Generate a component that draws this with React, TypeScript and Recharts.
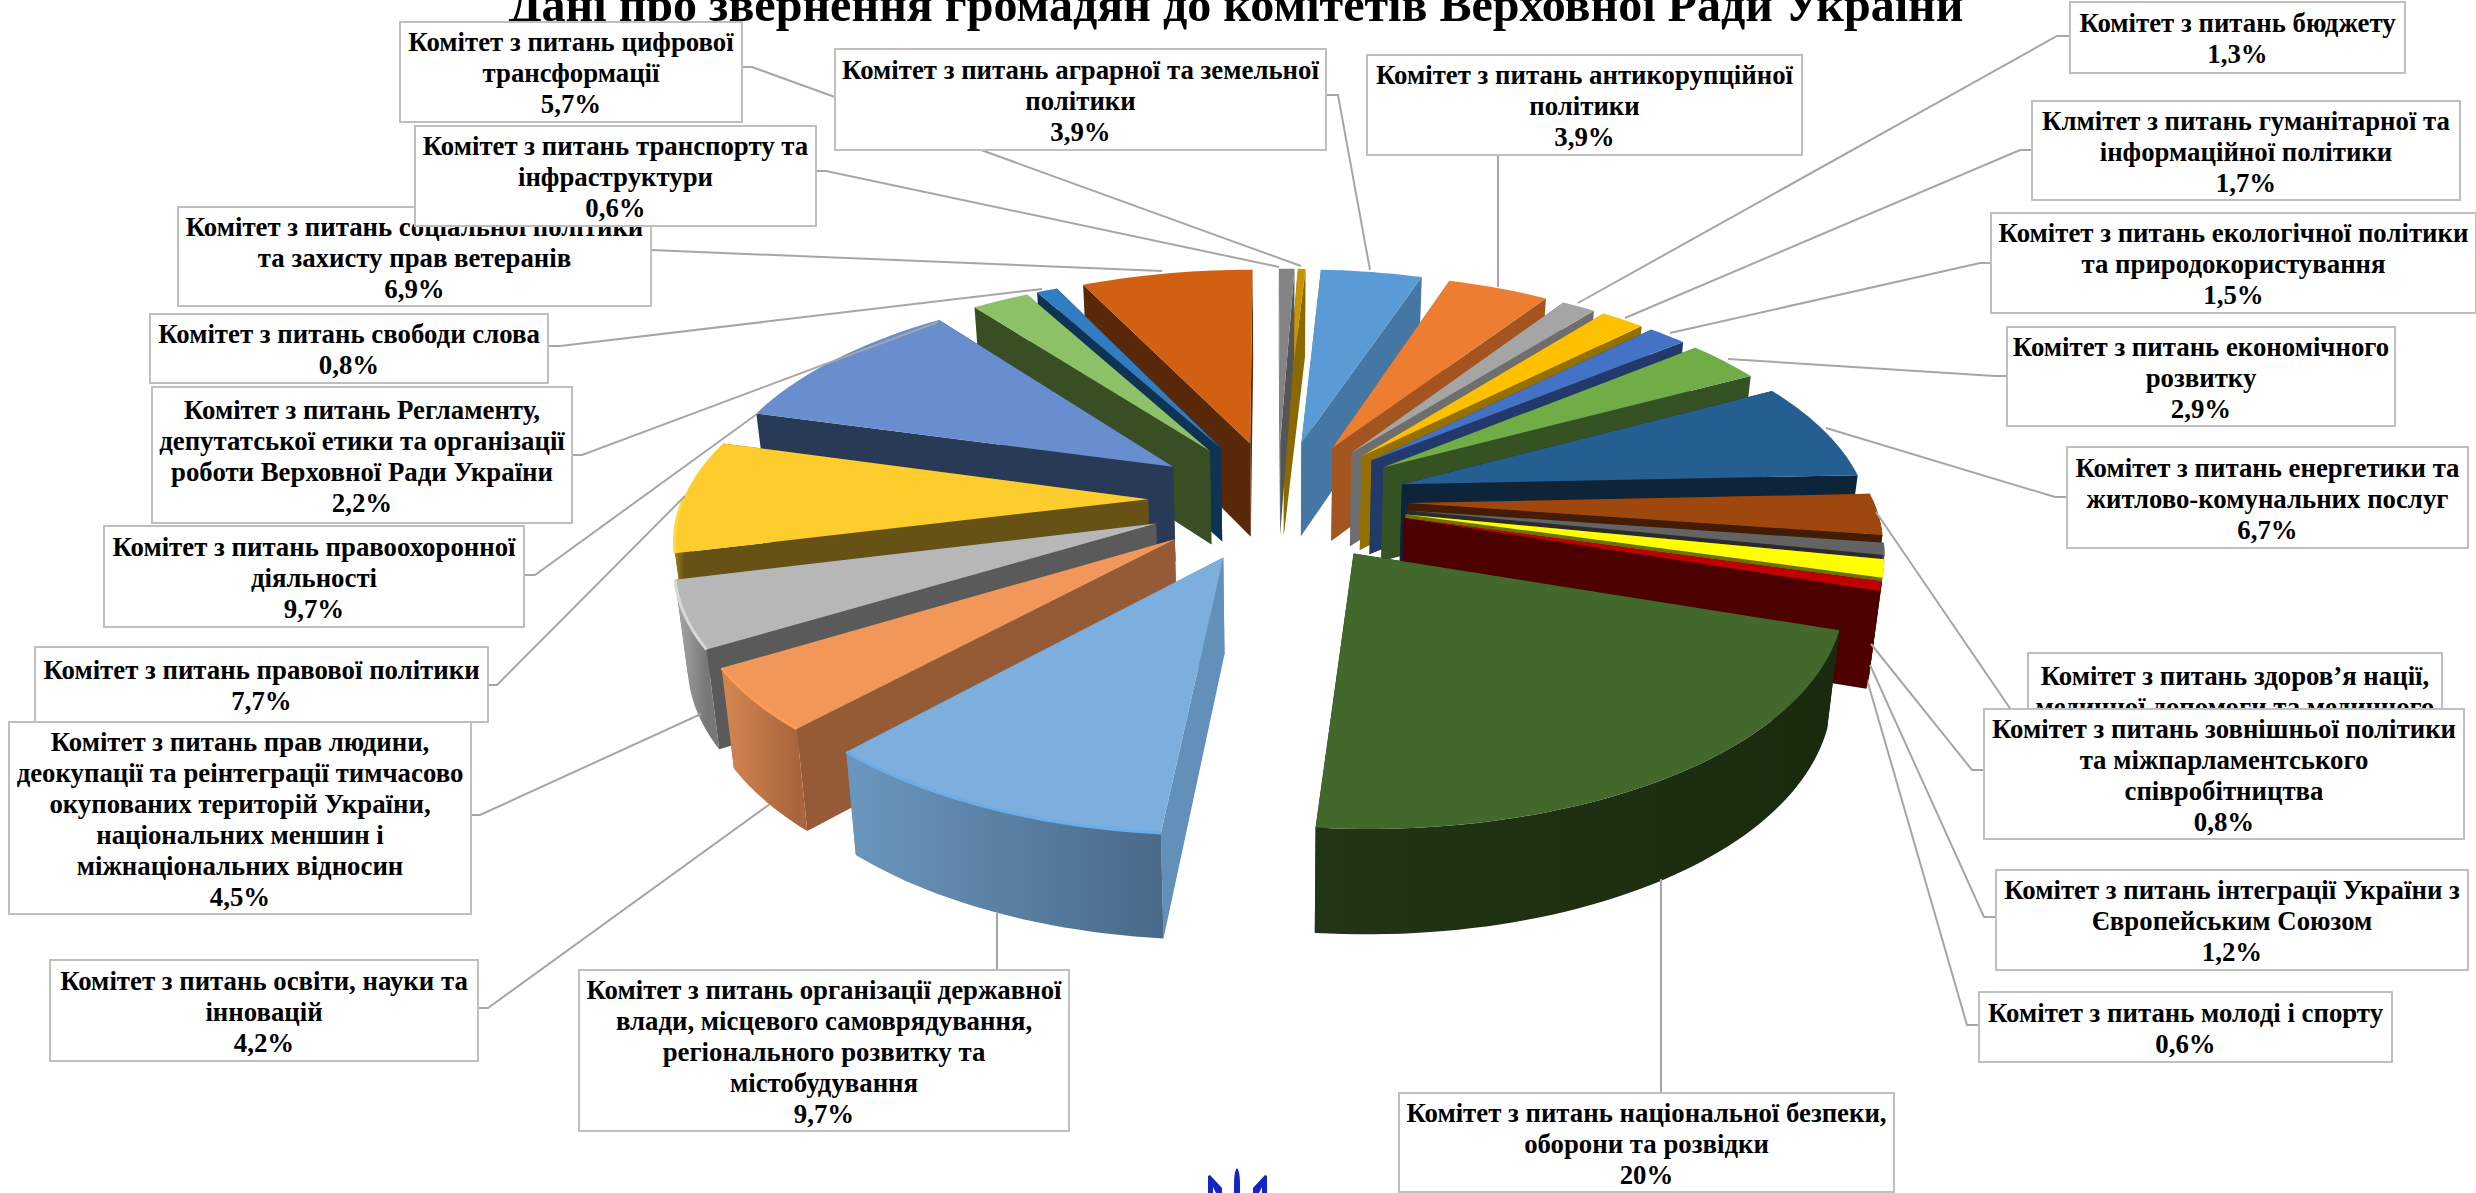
import React from "react";
import { PieChart, Pie } from "recharts";

const WIDTH = 2476;
const HEIGHT = 1193;

// ---- data (clockwise from the top) ----
const committees = [
  "Аграрна", "Антикорупція", "Бюджет", "Гуманітарна", "Екологія", "Економіка", "Енергетика",
  "Здоров'я", "Зовнішня", "Інтеграція", "Молодь", "Безпека", "Організація", "Освіта",
  "Права людини", "Правова", "Правоохоронна", "Регламент", "Свобода слова", "Соціальна",
  "Транспорт", "Цифрова",
];
// drawn share of each slice as seen in the picture
const drawnShares = [3.9, 3.9, 1.3, 1.7, 1.5, 2.9, 6.7, 2.8, 0.8, 1.2, 0.6, 20, 9.7, 4.2, 4.5, 7.7, 9.7, 2.2, 0.8, 6.6, 0.6, 0.3];
// printed texts
const printedShares = ["3,9%", "3,9%", "1,3%", "1,7%", "1,5%", "2,9%", "6,7%", "2,8%", "0,8%", "1,2%", "0,6%", "20%", "9,7%", "4,2%", "4,5%", "7,7%", "9,7%", "2,2%", "0,8%", "6,9%", "0,6%", "5,7%"];
const labelTexts: string[][] = [
  ["Комітет з питань аграрної та земельної", "політики"],
  ["Комітет з питань антикорупційної", "політики"],
  ["Комітет з питань бюджету"],
  ["Клмітет з питань гуманітарної та", "інформаційної політики"],
  ["Комітет з питань екологічної політики", "та природокористування"],
  ["Комітет з питань економічного", "розвитку"],
  ["Комітет з питань енергетики та", "житлово-комунальних послуг"],
  ["Комітет з питань здоров’я нації,", "медичної допомоги та медичного", "страхування"],
  ["Комітет з питань зовнішньої політики", "та міжпарламентського", "співробітництва"],
  ["Комітет з питань інтеграції України з", "Європейським Союзом"],
  ["Комітет з питань молоді і спорту"],
  ["Комітет з питань національної безпеки,", "оборони та розвідки"],
  ["Комітет з питань організації державної", "влади, місцевого самоврядування,", "регіонального розвитку та", "містобудування"],
  ["Комітет з питань освіти, науки та", "інновацій"],
  ["Комітет з питань прав людини,", "деокупації та реінтеграції тимчасово", "окупованих територій України,", "національних меншин і", "міжнаціональних відносин"],
  ["Комітет з питань правової політики"],
  ["Комітет з питань правоохоронної", "діяльності"],
  ["Комітет з питань Регламенту,", "депутатської етики та організації", "роботи Верховної Ради України"],
  ["Комітет з питань свободи слова"],
  ["Комітет з питань соціальної політики", "та захисту прав ветеранів"],
  ["Комітет з питань транспорту та", "інфраструктури"],
  ["Комітет з питань цифрової", "трансформації"],
];
const titleText = "Дані про звернення громадян до комітетів Верховної Ради України";

// ---- looks ----
const topColors = ["#5b9bd5", "#ed7d31", "#a5a5a5", "#ffc000", "#4472c4", "#70ad47", "#255e91", "#9e480e", "#636363", "#ffff00", "#c00000", "#43682b", "#7cafdd", "#f1975a", "#b7b7b7", "#fccd2d", "#698ed0", "#8cc168", "#327dc2", "#d26012", "#848484", "#c89400"];
const wallColors = ["#4477a3", "#a4541f", "#6e6e6e", "#947000", "#223a6b", "#355223", "#0d2439", "#431c03", "#2b2b2b", "#6f6f00", "#4d0000", "#1b2a0f", "#6290b8", "#955b36", "#5a5a5a", "#665215", "#293a57", "#384f23", "#0f3354", "#592808", "#555555", "#8a6a00"];
const outerFrom = ["#4477a3", "#a4541f", "#6e6e6e", "#947000", "#223a6b", "#355223", "#0d2439", "#431c03", "#444444", "#8f8f00", "#4d0000", "#223516", "#6a97be", "#d58752", "#ababab", "#998020", "#293a57", "#384f23", "#0f3354", "#592808", "#555555", "#8a6a00"];
const outerTo = ["#4477a3", "#a4541f", "#6e6e6e", "#947000", "#223a6b", "#355223", "#0d2439", "#431c03", "#2b2b2b", "#6f6f00", "#4d0000", "#1a2a0e", "#4a6a89", "#a9653c", "#777777", "#665215", "#293a57", "#384f23", "#0f3354", "#592808", "#555555", "#8a6a00"];
const rimColors: Record<number, string> = { 12: "#6aade8", 13: "#ff9a50", 14: "#d9d9d9", 15: "#ffd83a" };

// ---- 3D projection of the pie plane ----
const TILT = 0.464;
const PERSPECTIVE = 0.000325;
const EXPLODE = 130;
const explodeExtra: Record<number, number> = { 11: 3 };
const RAD = Math.PI / 180;

type Pt = { x: number; y: number; s: number };

const pathOf = (pts: { x: number; y: number }[]) =>
  pts.map((p, i) => `${i ? "L" : "M"}${p.x.toFixed(1)},${p.y.toFixed(1)}`).join(" ") + " Z";

const Wedge3D = (props: any) => {
  const { cx, cy, outerRadius, startAngle, endAngle, payload } = props;
  const idx: number = payload?.idx ?? props.idx;
  const a0 = Math.min(startAngle, endAngle);
  const a1 = Math.max(startAngle, endAngle);
  const mid = (a0 + a1) / 2;
  const explode = EXPLODE + (explodeExtra[idx] || 0);
  const ou = explode * Math.cos(mid * RAD);
  const ov = -explode * Math.sin(mid * RAD);
  const project = (u: number, v: number): Pt => {
    const s = 1 / (1 - PERSPECTIVE * v);
    return { x: cx + u * s, y: cy + TILT * v * s, s };
  };
  const down = (p: Pt) => ({ x: cx + (p.x - cx) * 0.978, y: p.y + 50 + 45 * p.s });
  const apex = project(ou, ov);
  const n = Math.max(4, Math.ceil((a1 - a0) / 1.5));
  const arc: (Pt & { front: boolean })[] = [];
  for (let i = 0; i <= n; i++) {
    const a = a0 + ((a1 - a0) * i) / n;
    const p = project(ou + outerRadius * Math.cos(a * RAD), ov - outerRadius * Math.sin(a * RAD));
    arc.push({ ...p, front: Math.sin(a * RAD) < 0.02 });
  }
  const first = arc[0];
  const last = arc[arc.length - 1];
  const wall = (edge: Pt) => [apex, edge, down(edge), down(apex)];
  const walls = first.y < last.y ? [first, last] : [last, first];
  const front = arc.filter((p) => p.front);
  const gradId = `outer-${idx}`;
  const xs = front.map((p) => p.x);
  const rim = rimColors[idx];
  return (
    <g>
      {walls.map((e, i) => (
        <path key={i} d={pathOf(wall(e))} fill={wallColors[idx]} />
      ))}
      {front.length > 1 && (
        <>
          <defs>
            <linearGradient id={gradId} gradientUnits="userSpaceOnUse" x1={Math.min(...xs)} x2={Math.max(...xs)} y1={0} y2={0}>
              <stop offset="0" stopColor={outerFrom[idx]} />
              <stop offset="1" stopColor={outerTo[idx]} />
            </linearGradient>
          </defs>
          <path d={pathOf([...front, ...front.map(down).reverse()])} fill={`url(#${gradId})`} />
        </>
      )}
      <path d={pathOf([apex, ...arc])} fill={topColors[idx]} />
      {rim && (
        <polyline points={front.map((p) => `${p.x.toFixed(1)},${p.y.toFixed(1)}`).join(" ")} fill="none" stroke={rim} strokeWidth={3} />
      )}
    </g>
  );
};

const table = committees.map((name, idx) => ({ name, idx, value: drawnShares[idx] }));
const SPLIT = 12;
const rightSlices = table.slice(0, SPLIT);
const leftSlices = table.slice(SPLIT).reverse();
const sumOf = (rows: { value: number }[]) => rows.reduce((a, r) => a + r.value, 0);
const total = sumOf(table);
const START = 86.7;

// ---- label layout: box [x0, y0, x1, y1] and leader polyline ----
const boxes: number[][] = [
  [835, 49, 1326, 150], [1367, 55, 1802, 155], [2070, 2, 2405, 73], [2032, 101, 2460, 200],
  [1991, 213, 2476, 313], [2007, 327, 2395, 426], [2067, 447, 2468, 548], [2028, 653, 2442, 790],
  [1984, 709, 2464, 839], [1996, 870, 2468, 970], [1979, 992, 2392, 1062], [1399, 1093, 1894, 1192],
  [579, 970, 1069, 1131], [50, 960, 478, 1061], [9, 722, 471, 914], [35, 647, 488, 722],
  [104, 526, 524, 627], [152, 387, 572, 523], [150, 314, 548, 383], [178, 207, 651, 306],
  [415, 126, 816, 226], [400, 22, 742, 122],
];
const leaders: number[][] = [
  [1326, 95, 1338, 95, 1370, 270], [1498, 155, 1498, 287], [2070, 36, 2057, 36, 1578, 303], [2032, 150, 2020, 150, 1625, 318],
  [1991, 263, 1980, 263, 1670, 333], [2007, 376, 1995, 376, 1728, 359], [2067, 497, 2055, 497, 1826, 428], [2028, 720, 2018, 720, 1876, 512],
  [1984, 770, 1972, 770, 1871, 644], [1996, 917, 1984, 917, 1870, 665], [1979, 1025, 1967, 1025, 1868, 683], [1661, 1093, 1661, 879],
  [997, 970, 997, 913], [478, 1008, 488, 1008, 770, 804], [471, 815, 480, 815, 701, 714], [488, 685, 497, 685, 685, 496],
  [524, 575, 535, 575, 757, 414], [572, 455, 582, 455, 938, 322], [548, 346, 560, 346, 1042, 289], [651, 250, 1162, 271],
  [816, 171, 826, 171, 1279, 267], [742, 67, 752, 67, 1301, 266],
];
const boxOrder = [7, 8, 0, 1, 2, 3, 4, 5, 6, 9, 10, 11, 12, 13, 14, 15, 16, 17, 18, 19, 20, 21];
const LINE_H = 31;
const FONT = "'Liberation Serif', 'Times New Roman', serif";

const Overlay = () => (
  <svg width={WIDTH} height={HEIGHT} style={{ position: "absolute", left: 0, top: 0, pointerEvents: "none" }}>
    <text x={1236} y={21} textAnchor="middle" fontFamily={FONT} fontWeight="bold" fontSize={48} textLength={1455} lengthAdjust="spacingAndGlyphs" fill="#000">
      {titleText}
    </text>
    {leaders.map((l, i) => (
      <polyline key={i} points={l.join(" ")} fill="none" stroke="#a6a6a6" strokeWidth={2} />
    ))}
    {boxOrder.map((i) => {
      const [x0, y0, x1, y1] = boxes[i];
      const lines = [...labelTexts[i], printedShares[i]];
      const top = y0 + (y1 - y0 - lines.length * LINE_H) / 2 + 25.5;
      return (
        <g key={i}>
          <rect x={x0} y={y0} width={x1 - x0} height={y1 - y0} fill="#fff" stroke="#bfbfbf" strokeWidth={2} />
          {lines.map((t, j) => (
            <text key={j} x={(x0 + x1) / 2} y={top + j * LINE_H} textAnchor="middle" fontFamily={FONT} fontWeight="bold" fontSize={26.8} fill="#000">
              {t}
            </text>
          ))}
        </g>
      );
    })}
    <g fill="#1425c4">
      <path d="M1208,1176 L1210,1175 L1222,1188 L1222,1193 L1216,1193 L1213,1187 L1213,1193 L1208,1193 Z" />
      <path d="M1237,1168 C1240,1172 1240,1178 1240,1193 L1234,1193 C1234,1178 1234,1172 1237,1168 Z" />
      <path d="M1267,1176 L1265,1175 L1253,1188 L1253,1193 L1259,1193 L1262,1187 L1262,1193 L1267,1193 Z" />
    </g>
  </svg>
);

export default function App() {
  return (
    <div style={{ position: "absolute", left: 0, top: 0, width: WIDTH, height: HEIGHT, overflow: "hidden", background: "#fff" }}>
      <PieChart width={WIDTH} height={HEIGHT} margin={{ top: 0, right: 0, bottom: 0, left: 0 }}>
        <Pie
          data={rightSlices}
          dataKey="value"
          nameKey="name"
          cx={1278}
          cy={500}
          innerRadius={0}
          outerRadius={465}
          startAngle={START}
          endAngle={START - (360 * sumOf(rightSlices)) / total}
          stroke="none"
          shape={Wedge3D}
          isAnimationActive={false}
        />
        <Pie
          data={leftSlices}
          dataKey="value"
          nameKey="name"
          cx={1278}
          cy={500}
          innerRadius={0}
          outerRadius={465}
          startAngle={START}
          endAngle={START + (360 * sumOf(leftSlices)) / total}
          stroke="none"
          shape={Wedge3D}
          isAnimationActive={false}
        />
      </PieChart>
      <Overlay />
    </div>
  );
}
